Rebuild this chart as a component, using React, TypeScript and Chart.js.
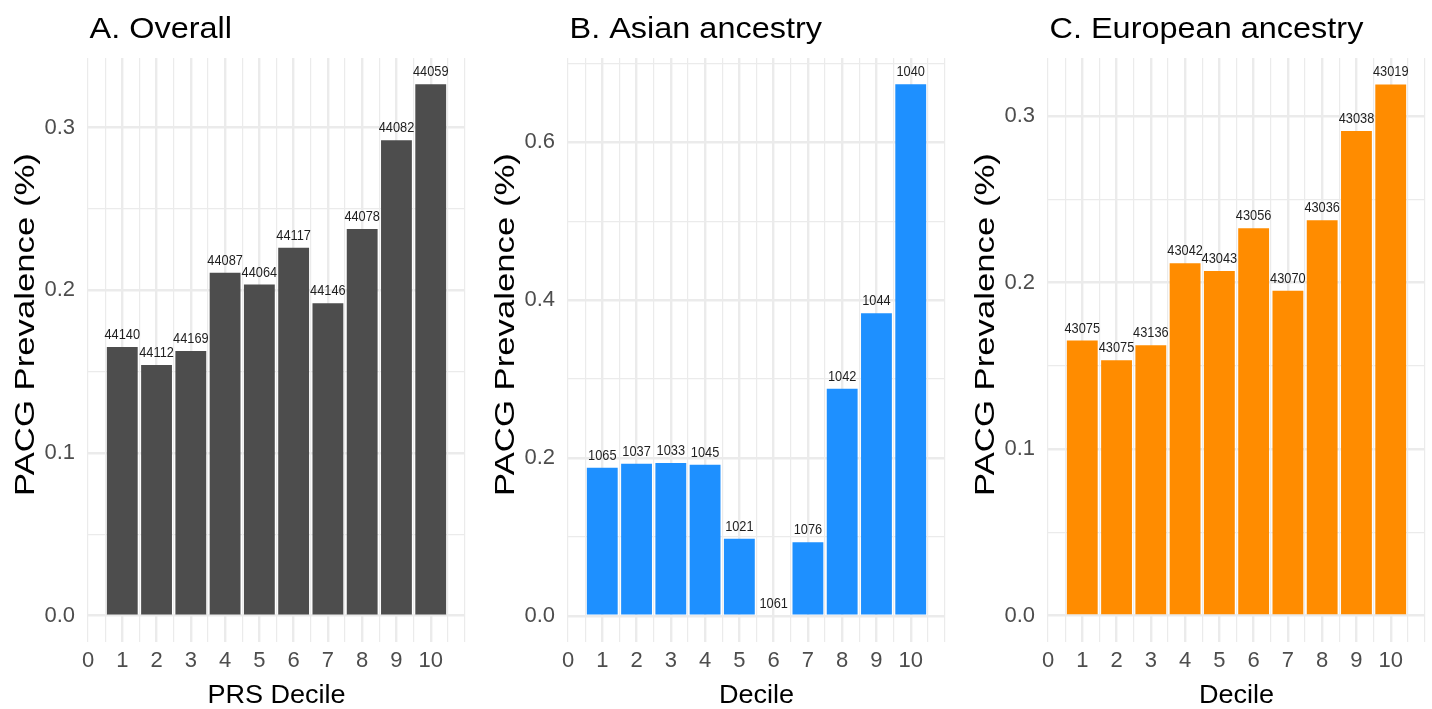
import React, { useEffect, useRef } from "react";
import { Chart, registerables } from "chart.js";

Chart.register(...registerables);

const FONT = '"Liberation Sans", Arial, Helvetica, sans-serif';

const deciles = [1, 2, 3, 4, 5, 6, 7, 8, 9, 10];
const xTickValues = [0, 0.5, 1, 1.5, 2, 2.5, 3, 3.5, 4, 4.5, 5, 5.5, 6, 6.5, 7, 7.5, 8, 8.5, 9, 9.5, 10, 10.5, 11];
const xTickLabels = ["0", "1", "2", "3", "4", "5", "6", "7", "8", "9", "10"];

const overallPrev = [0.1652, 0.1541, 0.1627, 0.2108, 0.2035, 0.2262, 0.192, 0.2377, 0.2922, 0.3266];
const overallN = [44140, 44112, 44169, 44087, 44064, 44117, 44146, 44078, 44082, 44059];
const overallYTicks = [0, 0.05, 0.1, 0.15, 0.2, 0.25, 0.3];

const asianPrev = [0.1876, 0.1927, 0.1935, 0.1914, 0.0976, 0, 0.093, 0.2877, 0.3833, 0.6735];
const asianN = [1065, 1037, 1033, 1045, 1021, 1061, 1076, 1042, 1044, 1040];
const asianYTicks = [0, 0.1, 0.2, 0.3, 0.4, 0.5, 0.6, 0.7];

const europeanPrev = [0.1652, 0.1534, 0.1624, 0.2116, 0.207, 0.2327, 0.1952, 0.2375, 0.2911, 0.3191];
const europeanN = [43075, 43075, 43136, 43042, 43043, 43056, 43070, 43036, 43038, 43019];
const europeanYTicks = [0, 0.05, 0.1, 0.15, 0.2, 0.25, 0.3];

const yAxisTitle = "PACG Prevalence (%)";

type PanelProps = {
  left: number;
  width: number;
  title: string;
  xTitle: string;
  color: string;
  values: number[];
  counts: number[];
  yTicks: number[];
  majorStep: number;
  yMin: number;
  yMax: number;
};

function isMultiple(v: number, step: number) {
  const r = v / step;
  return Math.abs(r - Math.round(r)) < 1e-6;
}

function drawText(
  ctx: CanvasRenderingContext2D,
  text: string,
  x: number,
  y: number,
  font: string,
  color: string,
  align: CanvasTextAlign,
  stretchX: number,
  stretchY: number,
  rotate: boolean
) {
  ctx.save();
  ctx.translate(x, y);
  if (rotate) ctx.rotate(-Math.PI / 2);
  ctx.scale(stretchX, stretchY);
  ctx.font = font;
  ctx.fillStyle = color;
  ctx.textAlign = align;
  ctx.textBaseline = "alphabetic";
  ctx.fillText(text, 0, 0);
  ctx.restore();
}

function Panel(p: PanelProps) {
  const ref = useRef<HTMLCanvasElement | null>(null);
  useEffect(() => {
    if (!ref.current) return;
    const H = 709;
    const decor = {
      id: "decor",
      afterDatasetsDraw(chart: any) {
        const ctx = chart.ctx as CanvasRenderingContext2D;
        const meta = chart.getDatasetMeta(0);
        meta.data.forEach((el: any, i: number) => {
          drawText(ctx, String(p.counts[i]), el.x, el.y - 8, `12.8px ${FONT}`, "#1f1f1f", "center", 1, 1.12, false);
        });
      },
      afterDraw(chart: any) {
        const ctx = chart.ctx as CanvasRenderingContext2D;
        const a = chart.chartArea;
        drawText(ctx, p.title, a.left + 1.5, 38, `29.5px ${FONT}`, "#000", "left", 1.1, 1, false);
        drawText(ctx, p.xTitle, (a.left + a.right) / 2, 703, `26px ${FONT}`, "#000", "center", 1.04, 1, false);
        drawText(ctx, yAxisTitle, a.left - 54.5, (a.top + a.bottom) / 2 - 25.5, `28px ${FONT}`, "#000", "center", 1.24, 1, true);
      },
    };
    const chart = new Chart(ref.current, {
      type: "bar",
      data: {
        datasets: [
          {
            data: deciles.map((d, i) => ({ x: d, y: p.values[i] })),
            backgroundColor: p.color,
            borderWidth: 0,
            barPercentage: 0.9,
            categoryPercentage: 2,
          },
        ],
      },
      options: {
        animation: false,
        responsive: false,
        devicePixelRatio: 1,
        layout: { padding: { top: 58, right: p.width - 465, bottom: 0, left: 0 } },
        plugins: { legend: { display: false }, tooltip: { enabled: false }, title: { display: false } },
        scales: {
          x: {
            type: "linear",
            min: 0,
            max: 11,
            offset: false,
            bounds: "data",
            border: { display: false },
            grid: {
              offset: false,
              drawTicks: false,
              color: "#ebebeb",
              lineWidth: (c: any) => {
                const v = c.tick ? c.tick.value : 0;
                return Number.isInteger(v) && v > 0 && v <= 10 ? 2.4 : 1.2;
              },
            },
            ticks: {
              autoSkip: false,
              maxRotation: 0,
              padding: 6,
              color: "#4d4d4d",
              font: { family: FONT, size: 22 },
              callback: (v: any) => {
                const n = Number(v);
                return Number.isInteger(n) && n <= 10 ? xTickLabels[n] : "";
              },
            },
            afterBuildTicks: (s: any) => {
              s.ticks = xTickValues.map((v) => ({ value: v }));
            },
            afterFit: (s: any) => {
              s.height = H - 642;
            },
          },
          y: {
            type: "linear",
            min: p.yMin,
            max: p.yMax,
            bounds: "data",
            border: { display: false },
            grid: {
              drawTicks: false,
              color: "#ebebeb",
              lineWidth: (c: any) => {
                const v = c.tick ? c.tick.value : 0;
                return isMultiple(v, p.majorStep) ? 2.4 : 1.2;
              },
            },
            ticks: {
              padding: 13,
              color: "#4d4d4d",
              font: { family: FONT, size: 22 },
              callback: (v: any) => {
                const n = Number(v);
                return isMultiple(n, p.majorStep) ? n.toFixed(1) : "";
              },
            },
            afterBuildTicks: (s: any) => {
              s.ticks = p.yTicks.map((v) => ({ value: v }));
            },
            afterFit: (s: any) => {
              s.width = 88;
            },
          },
        },
      } as any,
      plugins: [decor],
    });
    return () => chart.destroy();
  }, []);
  return (
    <div style={{ position: "absolute", left: p.left, top: 0, width: p.width, height: 709 }}>
      <canvas ref={ref} width={p.width} height={709} style={{ width: p.width, height: 709, display: "block" }} />
    </div>
  );
}

export default function App() {
  return (
    <div style={{ position: "fixed", left: 0, top: 0, width: 1432, height: 709, background: "#fff", overflow: "hidden" }}>
      <Panel
        left={0}
        width={480}
        title="A. Overall"
        xTitle="PRS Decile"
        color="#4d4d4d"
        values={overallPrev}
        counts={overallN}
        yTicks={overallYTicks}
        majorStep={0.1}
        yMin={-0.0162}
        yMax={0.3428}
      />
      <Panel
        left={480}
        width={480}
        title="B. Asian ancestry"
        xTitle="Decile"
        color="#1e90ff"
        values={asianPrev}
        counts={asianN}
        yTicks={asianYTicks}
        majorStep={0.2}
        yMin={-0.0333}
        yMax={0.7068}
      />
      <Panel
        left={960}
        width={472}
        title="C. European ancestry"
        xTitle="Decile"
        color="#ff8c00"
        values={europeanPrev}
        counts={europeanN}
        yTicks={europeanYTicks}
        majorStep={0.1}
        yMin={-0.0159}
        yMax={0.335}
      />
    </div>
  );
}
